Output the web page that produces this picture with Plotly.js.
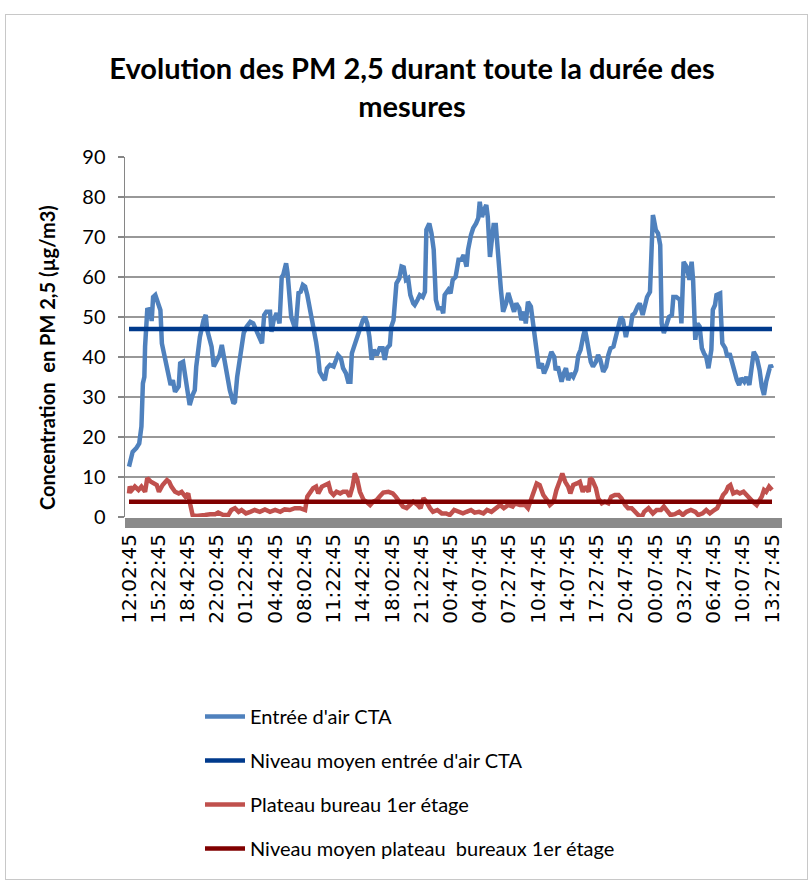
<!DOCTYPE html>
<html>
<head>
<meta charset="utf-8">
<script src="https://cdn.plot.ly/plotly-3.0.1.min.js"></script>
<style>
  html, body { margin: 0; padding: 0; background: #ffffff; }
  #frame { position: absolute; left: 5px; top: 14px; width: 801px; height: 864px; border: 1px solid #c8c8c8; }
  #chart { position: absolute; left: 0; top: 0; width: 808px; height: 880px; }
</style>
</head>
<body>
<div id="frame"></div>
<div id="chart"></div>
<script>
// Tick labels (one every 200 minutes of measurement)
const timeLabels = ["12:02:45","15:22:45","18:42:45","22:02:45","01:22:45","04:42:45","08:02:45","11:22:45","14:42:45","18:02:45","21:22:45","00:47:45","04:07:45","07:27:45","10:47:45","14:07:45","17:27:45","20:47:45","00:07:45","03:27:45","06:47:45","10:07:45","13:27:45"];
const labelPositions = [0,200,400,600,800,1000,1200,1400,1600,1800,2000,2200,2400,2600,2800,3000,3200,3400,3600,3800,4000,4200,4400];

// Entrée d'air CTA : elapsed minutes and PM2.5 (µg/m3)
const ctaMinutes = [0,5,25,50,70,85,95,105,110,125,145,155,165,180,200,215,225,245,270,285,300,315,340,350,370,390,405,415,435,450,460,475,485,510,525,535,550,565,580,600,620,635,650,670,690,715,725,740,755,770,785,805,830,850,875,910,925,940,965,975,990,1010,1030,1045,1055,1075,1085,1095,1110,1125,1140,1160,1175,1190,1205,1220,1240,1255,1280,1295,1305,1325,1340,1355,1375,1400,1415,1430,1450,1465,1485,1500,1515,1525,1540,1560,1580,1600,1615,1630,1645,1660,1675,1695,1715,1735,1750,1765,1785,1795,1810,1820,1830,1850,1865,1880,1895,1910,1925,1945,1955,1975,1990,2010,2025,2035,2055,2070,2085,2100,2115,2140,2150,2160,2185,2200,2215,2235,2255,2275,2290,2310,2320,2340,2355,2375,2390,2400,2415,2430,2445,2455,2470,2480,2495,2510,2520,2535,2545,2560,2580,2595,2620,2635,2650,2670,2685,2705,2715,2730,2750,2765,2780,2795,2805,2825,2840,2860,2875,2890,2910,2920,2935,2950,2960,2975,2990,3005,3020,3040,3060,3075,3090,3110,3120,3130,3145,3160,3175,3195,3210,3225,3245,3265,3280,3295,3315,3330,3350,3365,3380,3400,3415,3430,3445,3460,3480,3495,3515,3530,3545,3565,3575,3585,3590,3605,3620,3635,3645,3660,3680,3695,3715,3725,3745,3760,3770,3780,3795,3815,3835,3850,3860,3875,3890,3905,3920,3935,3950,3965,3975,3985,3995,4010,4020,4045,4050,4060,4080,4095,4110,4130,4145,4160,4175,4190,4210,4225,4245,4260,4275,4295,4315,4330,4345,4360,4375,4390,4400];
const ctaValues = [12.6,13.4,16.3,17.2,18.4,22.6,33.4,35,42.6,51.8,52,49,55,55.5,53.4,51.7,43.4,40,36.7,33,34.2,31.3,32.6,38.4,38.8,34.2,29.2,28,30.5,31.7,37.6,41.8,45,49.2,50.5,46.8,45,42.6,37.6,38.8,40.5,43,40,36.7,31.7,28.4,28.8,35,39.3,42.6,46,47.6,48.8,48.4,46,43.4,50.5,51.3,51.3,46.3,49.2,51,48.4,60,60.5,63.4,61,56.8,50,48.4,46.8,56,56.3,58,57.6,55.5,51.8,48.4,43.8,40,36.3,35,34.2,37.2,38,37.6,38.8,40.5,39.7,37.2,35.9,33.8,33.8,40.9,42.6,45,47.2,49.2,50,48.4,45,39.3,41.8,40.5,42.2,42.2,39.3,42.2,43,47.6,49.2,53.4,58.4,59.7,62.6,62.4,59.3,59.7,55.5,53.4,53,54.3,55.5,55,56.3,71.8,73.4,70.9,66.8,54.3,52.2,52.2,50.9,55.5,56.8,55.9,59.3,60,64.3,64.3,65.5,62.6,66.8,70.5,72.2,73.4,74.7,78.8,75,76.8,78,75,65,68.4,73,73,67.6,62.6,56.8,51.3,53.4,56,53.4,51.3,53.4,52.2,49.2,51.3,48.4,53.8,52.6,48.4,45,40.9,37.2,38.4,35.9,37.6,39.3,41.3,40,36.7,37.6,35,33.8,35.9,37.2,34.2,35.9,35,36.7,40.5,41.8,45.5,46.8,45,40.9,38.8,37.6,38.8,40.5,39.3,36.3,37.6,40.5,42.2,42.6,44.7,47.6,50,49.2,45,47.6,46.8,50.5,50.9,52.6,53.4,50.5,53.4,55,56.3,63.4,75.5,74.7,71.8,70.9,68,48.4,46,48.4,50,50.5,55,55,54.7,54.3,48.4,63.8,62.6,59.3,63.8,59.3,44.3,48.4,47.6,42.2,40.9,40,37.2,40,41.8,51.8,53,55.5,55.9,50.9,43.4,42.2,40,40.9,38,35.9,34.2,33,34.7,33.8,35,33,37.2,41.3,40,36.7,32.6,30.5,33.8,36.3,38,37.2];

// Plateau bureau 1er étage : elapsed minutes and PM2.5 (µg/m3)
const bureauMinutes = [0,5,20,40,65,85,110,125,150,165,190,205,230,260,275,290,315,340,360,385,405,420,435,460,485,520,555,590,610,645,680,700,725,750,770,800,830,860,895,930,965,1000,1035,1065,1100,1135,1170,1205,1220,1240,1260,1280,1295,1320,1340,1365,1380,1400,1420,1445,1465,1490,1510,1530,1545,1560,1580,1605,1625,1650,1670,1695,1715,1740,1775,1805,1825,1850,1875,1900,1925,1945,1975,1995,2015,2035,2060,2080,2110,2140,2170,2195,2225,2255,2285,2310,2340,2365,2395,2425,2450,2480,2510,2540,2565,2595,2625,2640,2675,2710,2730,2750,2765,2790,2810,2835,2860,2880,2905,2925,2950,2965,2985,3005,3020,3040,3065,3085,3105,3120,3145,3155,3170,3195,3210,3235,3255,3280,3300,3325,3350,3370,3395,3415,3440,3460,3485,3510,3525,3555,3585,3610,3640,3660,3685,3705,3735,3765,3790,3815,3845,3875,3895,3925,3950,3975,4005,4025,4050,4065,4085,4100,4115,4135,4160,4180,4205,4225,4250,4270,4295,4315,4330,4345,4360,4380,4400];
const bureauValues = [5.9,7.6,6.75,7.6,6.75,7.6,6.3,9.7,8.8,8.4,8,6.3,8,9.25,8.8,7.6,6.3,5.9,6.3,5.1,5.9,3,0.5,0.25,0.25,0.5,0.7,0.7,1.1,0.5,0.5,1.75,2.2,1.3,1.75,0.9,1.3,1.75,1.3,1.9,1.3,1.75,1.3,1.9,1.75,2.2,2.2,1.75,5.1,6.3,7.2,7.6,5.9,7.6,8,8.4,6.3,5.5,6.3,5.9,6.3,6.3,5.1,7.6,10.9,9.7,6.3,4.25,3.8,3,3.8,4.25,5.1,6.1,6.3,5.9,5.1,3.8,2.6,2.2,3,3.8,3,2.2,4.7,3.8,2.2,1.3,1.75,0.9,0.9,0.5,1.75,1.3,0.9,1.3,1.75,1.1,1.3,0.9,1.75,1.3,2.2,3,2.2,3,2.6,3.4,3,3,2.2,4.25,6.3,8.4,8,5.5,4.25,3,3.8,6.75,9.25,10.9,8.8,7.6,5.9,8,8.4,8.8,6.3,7.6,6.3,9.7,9.25,7.2,4.7,3.4,3.8,3.4,5.1,5.5,5.5,4.7,3,2.2,2.2,1.3,0.5,0.1,1.3,2.2,0.9,1.75,1.75,2.6,1.3,0.5,0.7,1.3,0.5,1.3,1.75,1.3,0.5,0.9,1.75,0.9,1.75,2.2,4.25,5.5,6.3,7.6,8,5.9,6.3,5.9,6.3,5.5,4.25,3.8,3,4.25,5.1,6.75,6.3,7.6,6.75];

// Mean levels
const meanCta = 47;
const meanBureau = 3.8;
const meanSpan = [0, 4400];

const traces = [
  { x: ctaMinutes, y: ctaValues, type: 'scatter', mode: 'lines', name: "Entrée d'air CTA",
    line: { color: '#4F81BD', width: 4.5 }, legendgroup: 'a' },
  { x: meanSpan, y: [meanCta, meanCta], type: 'scatter', mode: 'lines', name: "Niveau moyen entrée d'air CTA",
    line: { color: '#003A8C', width: 4.5 }, legendgroup: 'b' },
  { x: bureauMinutes, y: bureauValues, type: 'scatter', mode: 'lines', name: "Plateau bureau 1er étage",
    line: { color: '#C0504D', width: 4.5 }, legendgroup: 'c' },
  { x: meanSpan, y: [meanBureau, meanBureau], type: 'scatter', mode: 'lines', name: "Niveau moyen plateau  bureaux 1er étage",
    line: { color: '#800000', width: 4.5 }, legendgroup: 'd' }
];

const layout = {
  width: 808, height: 880,
  margin: { l: 125, r: 33, t: 157, b: 363 },
  paper_bgcolor: 'rgba(0,0,0,0)',
  plot_bgcolor: 'rgba(0,0,0,0)',
  showlegend: true,
  title: {
    text: 'Evolution des PM 2,5 durant toute la durée des<br>mesures',
    font: { family: 'Lato, sans-serif', size: 29, color: '#000000', weight: 'bold' },
    x: 0.51, xanchor: 'center', xref: 'container',
    y: 1 - 79/880, yanchor: 'top', yref: 'container'
  },
  xaxis: {
    type: 'linear',
    range: [-27.4, 4420.5],
    tickmode: 'array', tickvals: labelPositions, ticktext: timeLabels,
    tickangle: -90,
    ticks: '', showgrid: false, zeroline: false, showline: false,
    ticklabelstandoff: 12,
    tickfont: { family: 'DejaVu Sans, sans-serif', size: 20, color: '#000000' },
    fixedrange: true
  },
  yaxis: {
    range: [0, 90],
    tickmode: 'array', tickvals: [0,10,20,30,40,50,60,70,80,90],
    ticks: 'outside', ticklen: 6, tickcolor: '#868686', tickwidth: 1.5,
    showline: true, linecolor: '#868686', linewidth: 1.5,
    showgrid: true, gridcolor: '#989898', gridwidth: 1.5,
    zeroline: false,
    ticklabelstandoff: 8,
    tickfont: { family: 'Lato, sans-serif', size: 20, color: '#000000' },
    fixedrange: true
  },
  annotations: [
    { text: 'Concentration  en PM 2,5 (µg/m3)', textangle: -90, showarrow: false,
      xref: 'paper', yref: 'paper', x: (47 - 125) / 650, y: (517 - 358) / 360,
      xanchor: 'center', yanchor: 'middle',
      font: { family: 'Lato, sans-serif', size: 20, color: '#000000', weight: 'bold' } }
  ],
  legend: {
    x: (200 - 125) / 650, xanchor: 'left',
    y: (517 - 697) / 360, yanchor: 'top',
    traceorder: 'grouped', tracegroupgap: 15,
    font: { family: 'Lato, sans-serif', size: 20, color: '#000000' },
    itemwidth: 40, bgcolor: 'rgba(0,0,0,0)'
  },
  shapes: [
    { type: 'rect', xref: 'paper', yref: 'paper', x0: 0, x1: (782 - 125) / 650,
      y0: -11 / 360, y1: -1 / 360, fillcolor: '#8a8a8a', line: { width: 0 }, layer: 'above' }
  ]
};

Plotly.newPlot('chart', traces, layout, { displayModeBar: false, staticPlot: true });
</script>
</body>
</html>
